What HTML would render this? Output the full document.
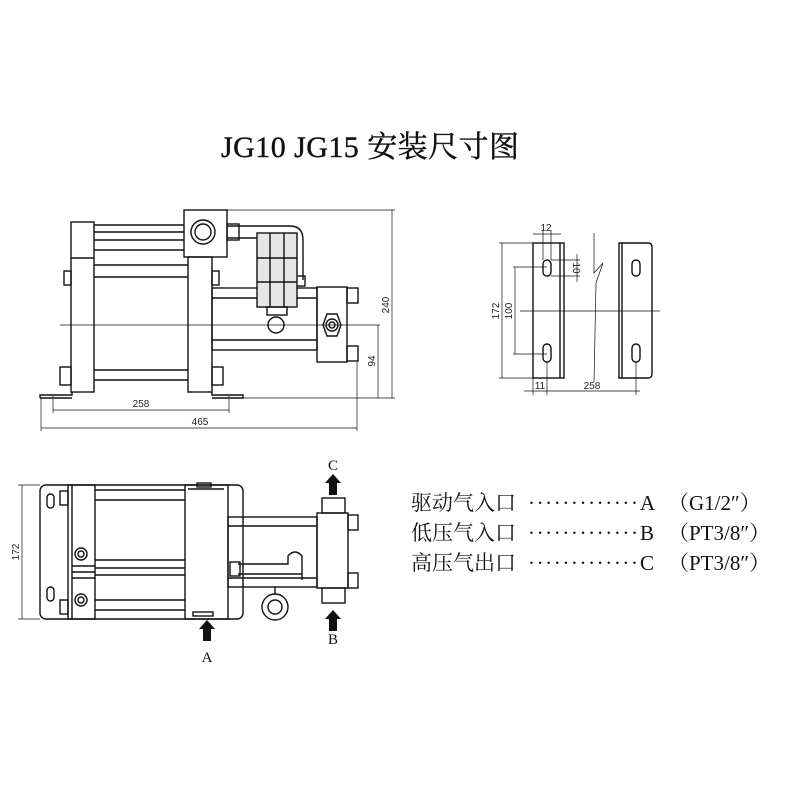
<!DOCTYPE html>
<html><head><meta charset="utf-8"><style>
html,body{margin:0;padding:0;background:#fff;}
svg{display:block;}
.t{font-family:"Liberation Serif","Noto Serif CJK SC",serif;fill:#111;}
.d{font-family:"Liberation Sans",sans-serif;fill:#222;font-size:10px;}
</style></head><body>
<svg width="800" height="800" viewBox="0 0 800 800" xmlns="http://www.w3.org/2000/svg">
<g fill="none" stroke="#111" stroke-width="1.4">
<!-- ===== side view ===== -->
<rect x="71" y="222" width="23" height="170"/>
<line x1="71" y1="258" x2="94" y2="258"/>
<rect x="184" y="210" width="43" height="47"/>
<circle cx="203" cy="232" r="12"/><circle cx="203" cy="232" r="8"/>
<rect x="188" y="257" width="24" height="135"/>
<line x1="94" y1="225" x2="184" y2="225"/><line x1="94" y1="232" x2="184" y2="232"/>
<line x1="94" y1="240" x2="184" y2="240"/><line x1="94" y1="250" x2="184" y2="250"/>
<line x1="94" y1="265" x2="188" y2="265"/><line x1="94" y1="277" x2="188" y2="277"/>
<line x1="94" y1="370" x2="188" y2="370"/><line x1="94" y1="380" x2="188" y2="380"/>
<rect x="64" y="271" width="7" height="14"/><rect x="212" y="271" width="7" height="14"/>
<rect x="60" y="367" width="11" height="18"/><rect x="212" y="367" width="11" height="18"/>
<polyline points="40,398 40,395 72,395 72,392"/><line x1="40" y1="398" x2="72" y2="398"/>
<polyline points="212,392 212,395 243,395 243,398 212,398"/>
<rect x="212" y="288" width="105" height="62"/>
<line x1="212" y1="298" x2="317" y2="298"/><line x1="212" y1="340" x2="317" y2="340"/>
<rect x="317" y="287" width="30" height="75"/>
<rect x="347" y="288" width="11" height="15"/><rect x="347" y="346" width="11" height="15"/>
<polygon points="323,325 327,314 337,314 341,325 337,336 327,336"/>
<circle cx="332" cy="325" r="6"/><circle cx="332" cy="325" r="3"/>
<path d="M227,226 L290,226 Q303,226 303,240 L303,280"/>
<path d="M227,238 L285,238 Q296,238 296,250 L296,280"/>
<rect x="227" y="224" width="12" height="16"/>
<rect x="293" y="276" width="12" height="10"/>
<rect x="257" y="233" width="40" height="74" fill="#e6e6e6"/>
<line x1="270" y1="233" x2="270" y2="307"/><line x1="284" y1="233" x2="284" y2="307"/>
<line x1="257" y1="258" x2="297" y2="258"/><line x1="257" y1="282" x2="297" y2="282"/>
<rect x="267" y="307" width="20" height="8"/>
<circle cx="276" cy="325" r="8"/>
<line x1="60" y1="325" x2="380" y2="325" stroke-width="0.7"/>
<!-- dims -->
<g stroke-width="0.7">
<line x1="227" y1="210" x2="395" y2="210"/><line x1="392" y1="210" x2="392" y2="398"/>
<line x1="243" y1="398" x2="395" y2="398"/><line x1="378" y1="325" x2="378" y2="398"/>
<line x1="53" y1="410" x2="229" y2="410"/><line x1="53" y1="395" x2="53" y2="413"/><line x1="229" y1="395" x2="229" y2="413"/>
<line x1="41" y1="428" x2="357" y2="428"/><line x1="41" y1="398" x2="41" y2="431"/><line x1="357" y1="362" x2="357" y2="431"/>
</g>
<!-- ===== top view ===== -->
<rect x="40" y="485" width="203" height="134" rx="6"/>
<rect x="68" y="485" width="27" height="134"/>
<line x1="72" y1="485" x2="72" y2="619"/>
<line x1="95" y1="490" x2="185" y2="490"/><line x1="95" y1="500" x2="185" y2="500"/>
<line x1="95" y1="560" x2="185" y2="560"/><line x1="95" y1="568" x2="185" y2="568"/>
<line x1="95" y1="575" x2="185" y2="575"/><line x1="95" y1="600" x2="185" y2="600"/><line x1="95" y1="610" x2="185" y2="610"/>
<line x1="72" y1="566" x2="95" y2="566"/><line x1="72" y1="572" x2="95" y2="572"/><line x1="72" y1="578" x2="95" y2="578"/>
<rect x="185" y="485" width="43" height="134"/><line x1="188" y1="489" x2="224" y2="489"/>
<rect x="197" y="483" width="14" height="4"/><rect x="193" y="612" width="20" height="4"/>
<rect x="60" y="491" width="8" height="14"/><rect x="60" y="600" width="8" height="14"/>
<rect x="47" y="494" width="7" height="14" rx="3.5"/><rect x="47" y="587" width="7" height="14" rx="3.5"/>
<circle cx="81" cy="554" r="6"/><circle cx="81" cy="554" r="3"/>
<circle cx="81" cy="600" r="6"/><circle cx="81" cy="600" r="3"/>
<rect x="228" y="517" width="89" height="70"/>
<line x1="228" y1="526" x2="317" y2="526"/><line x1="228" y1="578" x2="317" y2="578"/>
<path d="M238,564 L288,564 L288,556 Q295,548 302,556 L302,580"/>
<path d="M238,574 L302,574"/>
<rect x="230" y="562" width="10" height="14"/>
<circle cx="275" cy="607" r="13"/><circle cx="275" cy="607" r="7"/>
<line x1="275" y1="587" x2="275" y2="594"/>
<rect x="317" y="513" width="31" height="75"/>
<rect x="348" y="515" width="10" height="15"/><rect x="348" y="573" width="10" height="15"/>
<rect x="322" y="498" width="23" height="15"/><rect x="322" y="588" width="23" height="15"/>
<line x1="22" y1="485" x2="22" y2="619" stroke-width="0.7"/>
<line x1="18" y1="485" x2="40" y2="485" stroke-width="0.7"/><line x1="18" y1="619" x2="40" y2="619" stroke-width="0.7"/>
<!-- ===== brackets ===== -->
<rect x="533" y="243" width="31" height="135"/><line x1="560" y1="243" x2="560" y2="378"/>
<rect x="543" y="260" width="8" height="16" rx="4"/><rect x="543" y="344" width="8" height="18" rx="4"/>
<path d="M619,243 L648,243 Q652,243 652,247 L652,374 Q652,378 648,378 L619,378 Z"/><line x1="622" y1="243" x2="622" y2="378"/>
<rect x="632" y="260" width="8" height="16" rx="4"/><rect x="632" y="344" width="8" height="18" rx="4"/>
<g stroke-width="0.7">
<line x1="520" y1="311" x2="660" y2="311"/>
<polyline points="594,233 594,273 603,263 596,283 594,382"/>
<line x1="499" y1="243" x2="533" y2="243"/><line x1="499" y1="378" x2="533" y2="378"/>
<line x1="502" y1="243" x2="502" y2="378"/>
<line x1="513" y1="267" x2="547" y2="267"/><line x1="513" y1="354" x2="547" y2="354"/><line x1="515" y1="267" x2="515" y2="354"/>
<line x1="533" y1="234" x2="561" y2="234"/><line x1="543" y1="230" x2="543" y2="260"/><line x1="551" y1="230" x2="551" y2="260"/>
<line x1="551" y1="260" x2="580" y2="260"/><line x1="551" y1="276" x2="580" y2="276"/><line x1="577" y1="254" x2="577" y2="282"/>
<line x1="524" y1="391" x2="640" y2="391"/><line x1="533" y1="378" x2="533" y2="395"/><line x1="547" y1="362" x2="547" y2="395"/><line x1="636" y1="362" x2="636" y2="395"/>
</g>
</g>
<!-- arrows -->
<g fill="#111">
<polygon points="333,474 341,483 337,483 337,495 329,495 329,483 325,483"/>
<polygon points="333,610 341,619 337,619 337,631 329,631 329,619 325,619"/>
<polygon points="207,620 215,629 211,629 211,641 203,641 203,629 199,629"/>
</g>
<text class="t" x="333" y="470" font-size="15" text-anchor="middle">C</text>
<text class="t" x="333" y="644" font-size="15" text-anchor="middle">B</text>
<text class="t" x="207" y="662" font-size="15" text-anchor="middle">A</text>
<!-- dim labels -->
<text class="d" x="141" y="407" text-anchor="middle">258</text>
<text class="d" x="200" y="425" text-anchor="middle">465</text>
<text class="d" transform="translate(389,305) rotate(-90)" text-anchor="middle">240</text>
<text class="d" transform="translate(375,361) rotate(-90)" text-anchor="middle">94</text>
<text class="d" transform="translate(19,552) rotate(-90)" text-anchor="middle">172</text>
<text class="d" transform="translate(499,311) rotate(-90)" text-anchor="middle">172</text>
<text class="d" transform="translate(512,311) rotate(-90)" text-anchor="middle">100</text>
<text class="d" x="546" y="231" text-anchor="middle" font-size="9">12</text>
<text class="d" transform="translate(573,268) rotate(90)" text-anchor="middle" font-size="9">10</text>
<text class="d" x="540" y="389" text-anchor="middle" font-size="9">11</text>
<text class="d" x="592" y="389" text-anchor="middle">258</text>
<!-- title -->
<text class="t" x="370" y="157" font-size="30" text-anchor="middle" stroke="#111" stroke-width="0.4" textLength="298" lengthAdjust="spacing">JG10 JG15 安装尺寸图</text>
<!-- legend -->
<g class="t" font-size="21">
<text x="411" y="510">驱动气入口</text><text x="528" y="510" textLength="110" lengthAdjust="spacing">·············</text><text x="640" y="510">A</text><text x="668" y="510">（G1/2″）</text>
<text x="411" y="540">低压气入口</text><text x="528" y="540" textLength="110" lengthAdjust="spacing">·············</text><text x="640" y="540">B</text><text x="668" y="540">（PT3/8″）</text>
<text x="411" y="570">高压气出口</text><text x="528" y="570" textLength="110" lengthAdjust="spacing">·············</text><text x="640" y="570">C</text><text x="668" y="570">（PT3/8″）</text>
</g>
</svg>
</body></html>
